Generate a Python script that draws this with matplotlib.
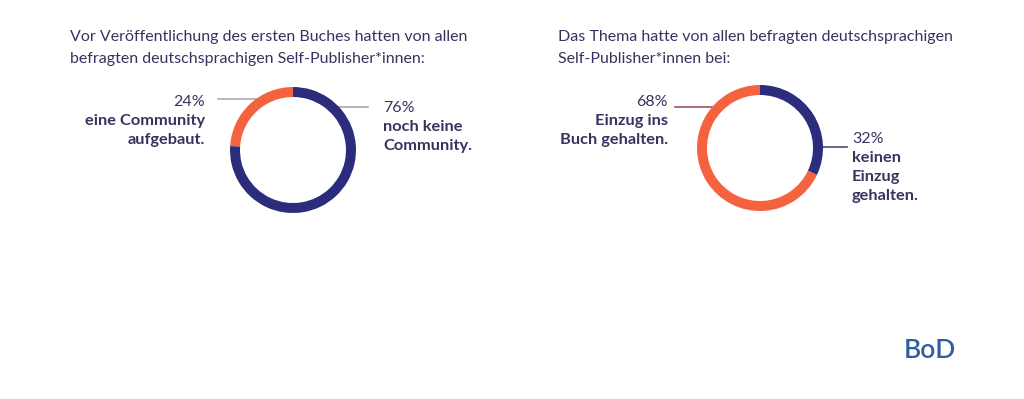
import matplotlib
matplotlib.use('Agg')
import matplotlib.pyplot as plt

# data
left_labels = ['eine Community\naufgebaut.', 'noch keine\nCommunity.']
left_values = [24, 76]
right_labels = ['Einzug ins\nBuch gehalten.', 'keinen\nEinzug\ngehalten.']
right_values = [68, 32]

title_left = 'Vor Veröffentlichung des ersten Buches hatten von allen\nbefragten deutschsprachigen Self-Publisher*innen:'
title_right = 'Das Thema hatte von allen befragten deutschsprachigen\nSelf-Publisher*innen bei:'

NAVY = '#2b2c7c'
ORANGE = '#f5623f'
TEXT = '#35345f'
W, H = 1024, 399

plt.rcParams['font.family'] = ['Lato', 'DejaVu Sans']

fig = plt.figure(figsize=(W / 100, H / 100), dpi=100)
ax = fig.add_axes([0, 0, 1, 1])


def Y(py):
    return H - py   # pixel row -> data y


def donut(cx, cy, vals):
    ax.pie(vals, colors=[ORANGE, NAVY], startangle=90, counterclock=True,
           center=(cx, Y(cy)), radius=63, frame=True,
           wedgeprops=dict(width=10, edgecolor='none'))


# leader lines first, so the ring sits on top
ax.plot([218, 258], [Y(99), Y(99)], color='#b0aaa8', lw=1.2, zorder=0)
ax.plot([335, 368], [Y(107), Y(107)], color='#a8a8a8', lw=1.2, zorder=0)
ax.plot([675, 712], [Y(107), Y(107)], color='#9a5560', lw=1.2, zorder=0)
ax.plot([815, 847], [Y(147), Y(147)], color='#4a4a80', lw=1.2, zorder=0)

donut(293, 150, left_values)
donut(760, 148, right_values)

# titles
ax.text(70, Y(30), title_left, fontsize=11.5, color=TEXT, va='top', ha='left',
        linespacing=1.75)
ax.text(558, Y(30), title_right, fontsize=11.5, color=TEXT, va='top', ha='left',
        linespacing=1.75)

# labels
def label(x, y, pct, txt, ha):
    ax.text(x, Y(y), f'{pct}%', fontsize=11.5, color=TEXT, ha=ha, va='top')
    ax.text(x, Y(y + 19), txt, fontsize=11.8, color=TEXT, ha=ha, va='top',
            fontweight='bold', linespacing=1.45)


label(205, 95, left_values[0], left_labels[0], 'right')
label(383, 101, left_values[1], left_labels[1], 'left')
label(668, 95, right_values[0], right_labels[0], 'right')
label(852, 132, right_values[1], right_labels[1], 'left')

ax.text(930, Y(350), 'BoD', fontsize=19, color='#2f5f9e', ha='center', va='center',
        fontweight='semibold')

ax.set_xlim(0, W)
ax.set_ylim(0, H)
ax.set_aspect('equal')
ax.axis('off')

fig.savefig('out.png', dpi=100, facecolor='white')
